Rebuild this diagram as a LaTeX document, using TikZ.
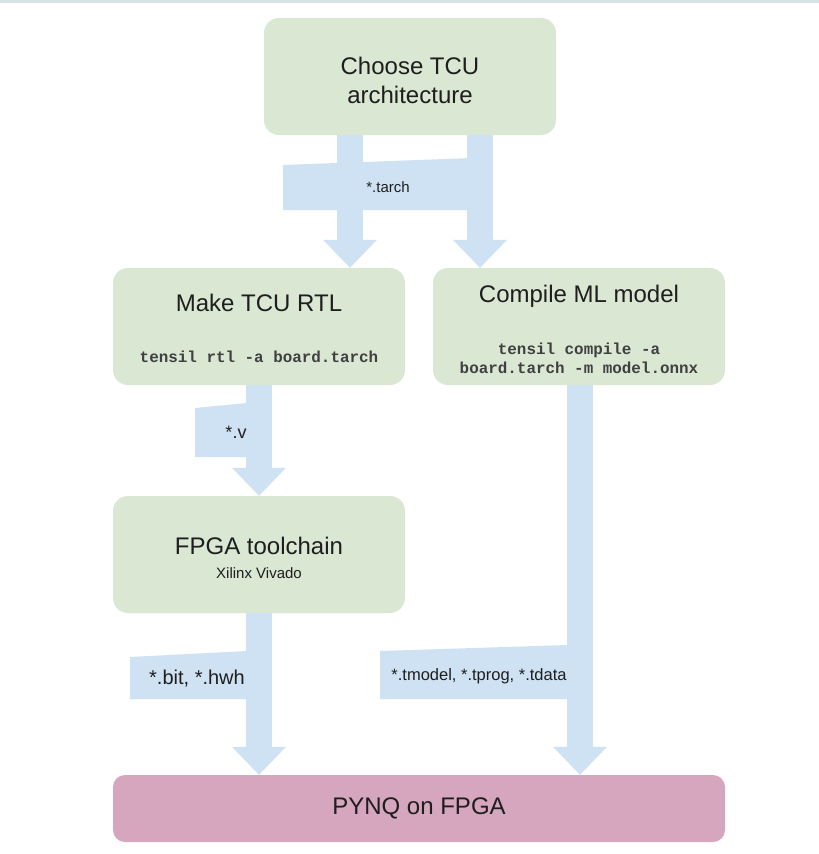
\documentclass[tikz,border=0pt]{standalone}
\usepackage{fontspec}
\setmainfont{Liberation Sans}
\setmonofont{Liberation Mono}
\usetikzlibrary{arrows.meta}
\definecolor{boxgreen}{HTML}{D9E7D3}
\definecolor{flowblue}{HTML}{CFE2F3}
\definecolor{pynqpink}{HTML}{D5A6BD}
\definecolor{topline}{HTML}{D6E4E6}
\definecolor{txt}{HTML}{1E1E1E}
\begin{document}
\begin{tikzpicture}[x=1pt,y=-1pt,
  stepbox/.style={fill=boxgreen, rounded corners=15pt, minimum width=292pt, minimum height=117pt, inner sep=0pt},
  pynqbox/.style={fill=pynqpink, rounded corners=12pt, minimum width=612pt, minimum height=67pt, inner sep=0pt},
  title/.style={text=txt, font=\fontsize{24}{29}\selectfont, align=center, inner sep=0pt},
  cmd/.style={text=txt!85, font=\ttfamily\bfseries\fontsize{15.9}{19}\selectfont, align=center, inner sep=0pt},
  small/.style={text=txt, font=\fontsize{15}{18}\selectfont, inner sep=0pt},
  band/.style={fill=flowblue},
  flow/.style={draw=flowblue, line width=26pt, -{Triangle[width=54pt,length=28pt,line width=0pt]}}
]
\useasboundingbox (0,0) rectangle (819,854);
\fill[white] (0,0) rectangle (819,854);
\fill[topline] (0,0) rectangle (819,3);

% boxes
\node[stepbox] (choose) at (410,76.5) {};
\node[stepbox] (rtl) at (259,326.5) {};
\node[stepbox] (compile) at (579,326.5) {};
\node[stepbox] (fpga) at (259,554.5) {};
\node[pynqbox] (pynq) at (419,808.5) {};

% label bands
\fill[band] (283,165) -- (472,158) -- (472,210) -- (283,210) -- cycle;
\fill[band] (195,408) -- (247,403) -- (247,457) -- (195,457) -- cycle;
\fill[band] (130,657) -- (247,651) -- (247,699) -- (130,699) -- cycle;
\fill[band] (380,651) -- (568,645) -- (568,699) -- (380,699) -- cycle;

% connectors
\draw[flow] (choose.south -| 350,0) -- (rtl.north -| 350,0);
\draw[flow] (choose.south -| 480,0) -- (compile.north -| 480,0);
\draw[flow] (rtl.south -| 259,0) -- (fpga.north -| 259,0);
\draw[flow] (fpga.south -| 259,0) -- (pynq.north -| 259,0);
\draw[flow] (compile.south -| 580,0) -- (pynq.north -| 580,0);

% texts
\node[title] (choosetxt) at (410,80) {Choose TCU\\architecture};
\node[title] (rtltxt) at (259,303) {Make TCU RTL};
\node[cmd] (rtlcmd) at (259,357) {tensil rtl -a board.tarch};
\node[title] (compiletxt) at (579,296) {Compile ML model};
\node[cmd] (compilecmd) at (579,358.5) {tensil compile -a\\board.tarch -m model.onnx};
\node[title] (fpgatxt) at (259,546) {FPGA toolchain};
\node[small] (fpgasub) at (259,573) {Xilinx Vivado};
\node[title] (pynqtxt) at (419,808) {PYNQ on FPGA};
\node[small] (tarch) at (388,187) {*.tarch};
\node[small, font=\fontsize{18}{20}\selectfont] (vfile) at (236,432) {*.v};
\node[small, font=\fontsize{20}{22}\selectfont] (bitfile) at (197,679) {*.bit, *.hwh};
\node[small, font=\fontsize{16.5}{19}\selectfont] (tfiles) at (479,676) {*.tmodel, *.tprog, *.tdata};
\end{tikzpicture}
\end{document}
